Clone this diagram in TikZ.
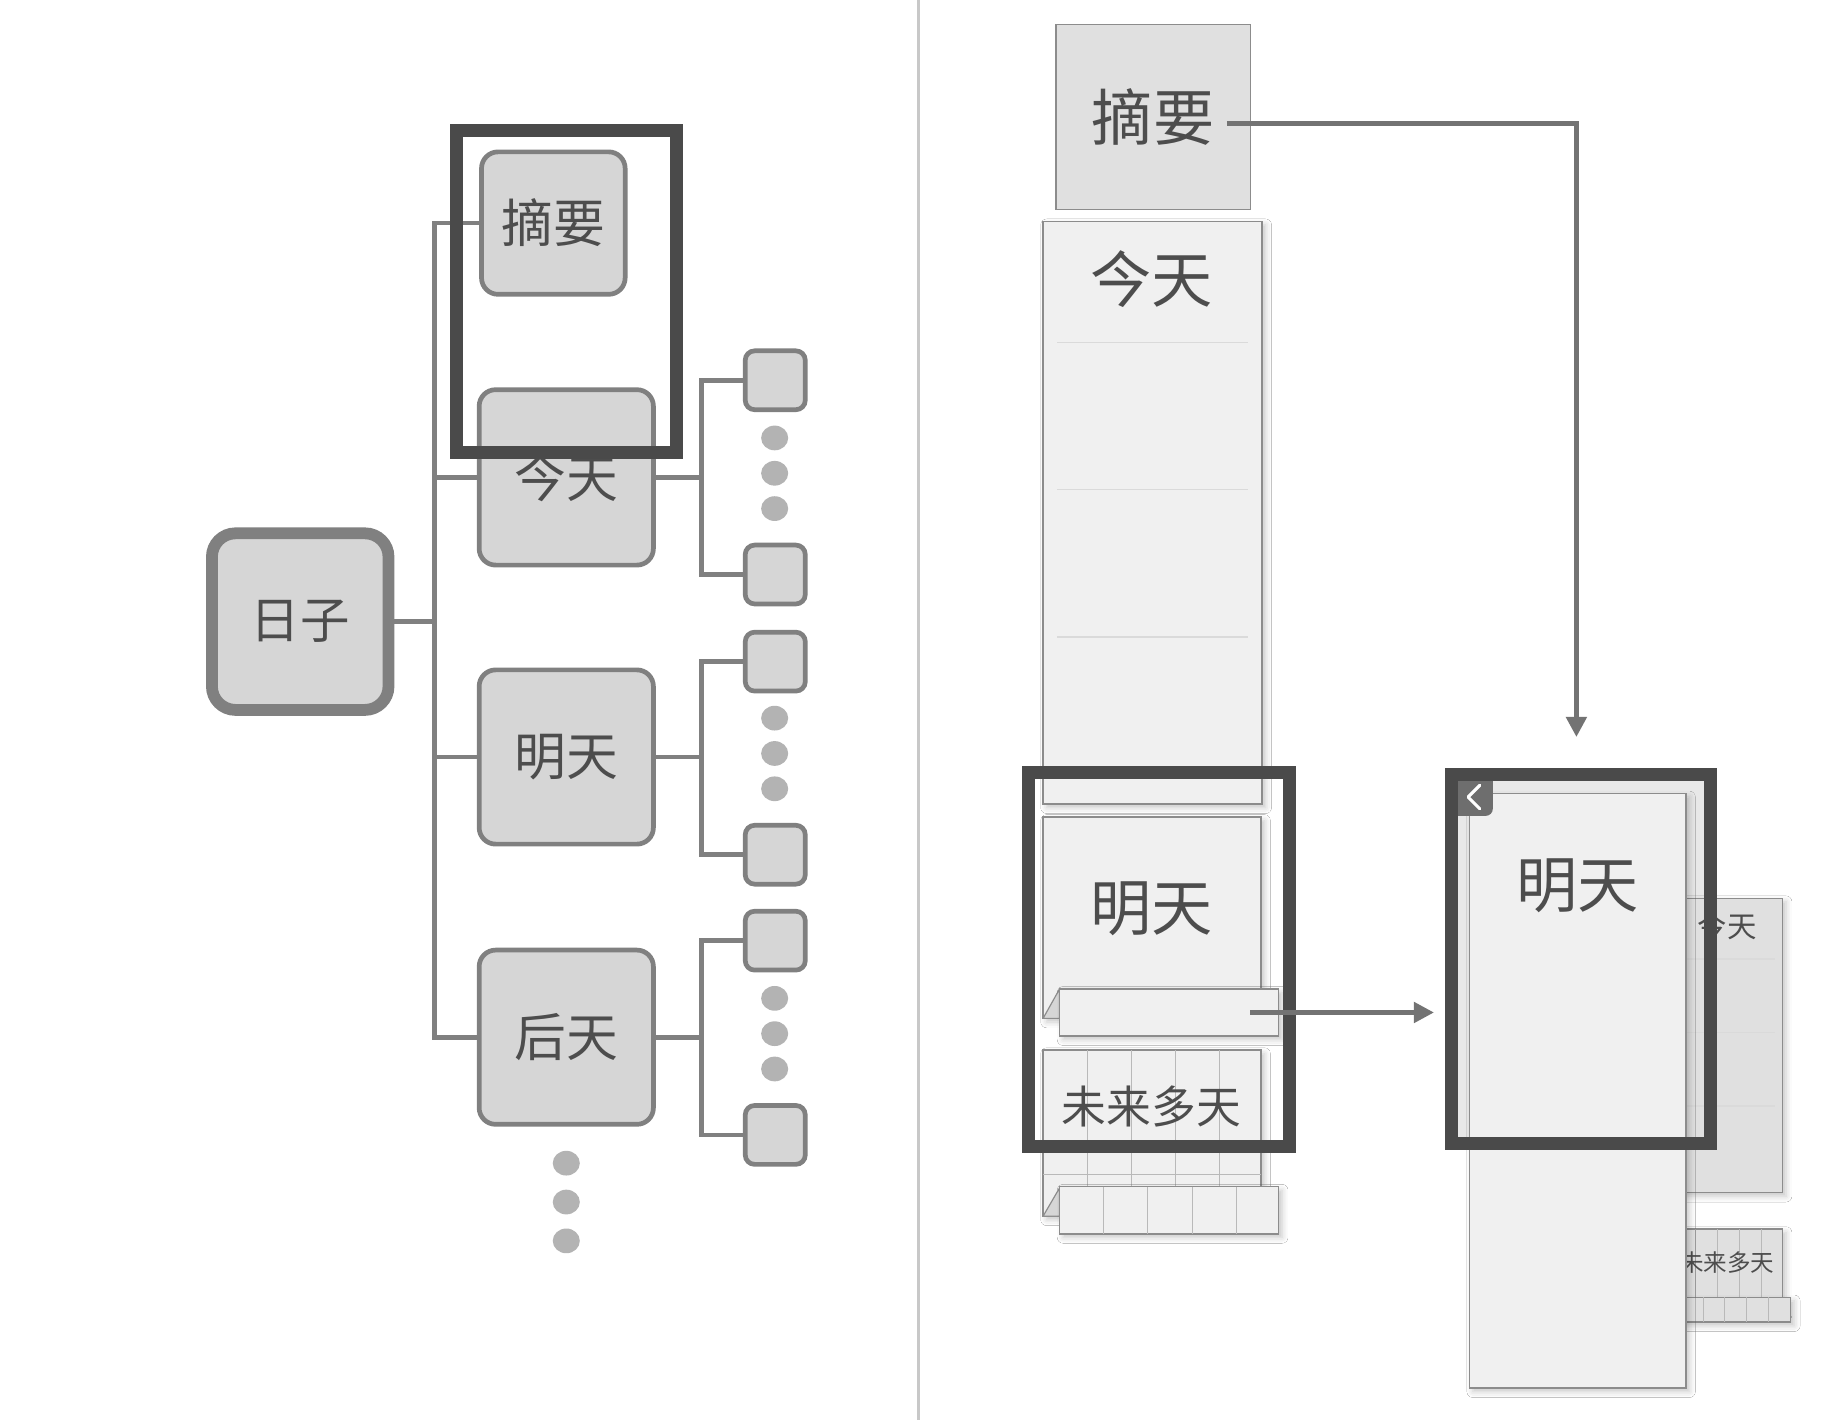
\documentclass[tikz,border=0pt]{standalone}
\usepackage{fontspec}
\newfontfamily\cjk{Noto Sans CJK SC}
\usetikzlibrary{arrows.meta,calc,shadows.blur,shapes.geometric}
\definecolor{boxfill}{HTML}{D6D6D6}
\definecolor{boxline}{HTML}{808080}
\definecolor{txt}{HTML}{4D4D4D}
\definecolor{frm}{HTML}{4A4A4A}
\definecolor{dotc}{HTML}{B3B3B3}
\definecolor{pan}{HTML}{F0F0F0}
\definecolor{pandim}{HTML}{E0E0E0}
\definecolor{panline}{HTML}{8C8C8C}
\definecolor{sepc}{HTML}{DADADA}
\definecolor{arrc}{HTML}{737373}
\definecolor{divc}{HTML}{C8C8C8}
\tikzset{
  topic/.style={draw=boxline, line width=4pt, fill=boxfill, rounded corners=14pt,
    inner sep=0pt, outer sep=0pt, text=txt, font=\cjk\fontsize{44pt}{44pt}\selectfont},
  rootbox/.style={topic, line width=10pt, rounded corners=20pt, font=\cjk\fontsize{42pt}{42pt}\selectfont},
  leaf/.style={draw=boxline, line width=4pt, fill=boxfill, rounded corners=8pt,
    inner sep=0pt, outer sep=0pt, minimum width=51pt, minimum height=50pt},
  dotn/.style={ellipse, fill=dotc, inner sep=0pt, minimum width=23pt, minimum height=21pt},
  conn/.style={draw=boxline, line width=4pt},
  hiframe/.style={draw=frm, line width=11pt, inner sep=0pt, outer sep=0pt},
  panel/.style={draw=panline, line width=1.2pt, fill=pan, inner sep=0pt, outer sep=0pt,
    anchor=north west, blur shadow={shadow xshift=3pt, shadow yshift=-3pt, shadow blur radius=5pt, shadow opacity=22}},
  dimpanel/.style={panel, fill=pandim},
  sumbox/.style={draw=panline, line width=1.2pt, fill=pandim, inner sep=0pt, outer sep=0pt,
    text=txt, font=\cjk\fontsize{52pt}{52pt}\selectfont},
  bigtxt/.style={text=txt, inner sep=0pt, font=\cjk\fontsize{52pt}{52pt}\selectfont},
  midtxt/.style={text=txt, inner sep=0pt, font=\cjk\fontsize{38pt}{38pt}\selectfont},
  sepline/.style={draw=sepc, line width=1pt},
  gridline/.style={draw=sepc!85!black, line width=0.8pt},
  foldc/.style={draw=panline, line width=1pt, fill=boxfill},
  arrowc/.style={draw=arrc, line width=4pt, -{Triangle[length=17pt,width=17pt]}},
  divline/.style={draw=divc, line width=3pt},
}
\begin{document}
\begin{tikzpicture}[x=1pt,y=-1pt]
\fill[white] (0,0) rectangle (1568,1206);
\useasboundingbox (0,0) rectangle (1568,1206);

% divider
\coordinate (dvt) at (780,0);
\coordinate (dvb) at (780,1206);
\draw[divline] (dvt) -- (dvb);

% ---------------- left tree ----------------
\node[rootbox, minimum width=150pt, minimum height=150pt] (rz) at (255,528) {日子};
\node[topic, minimum width=122pt, minimum height=121pt] (zy) at (470,189.5) {摘要};
\node[topic, minimum width=148pt, minimum height=149pt] (jt) at (481,405.5) {今天};
\node[topic, minimum width=148pt, minimum height=148pt] (mt) at (481,643) {明天};
\node[topic, minimum width=148pt, minimum height=148pt] (ht) at (481,881) {后天};

\coordinate (trunk) at (369,528);
\draw[conn] (rz.east) -- (trunk);
\draw[conn] (zy.west) -| (trunk) |- (ht.west);
\draw[conn] (trunk) |- (jt.west);
\draw[conn] (trunk) |- (mt.west);

% leaves
\node[leaf] (jt1) at (658.5,323) {};
\node[leaf] (jt2) at (658.5,488) {};
\node[leaf] (mt1) at (658.5,562) {};
\node[leaf] (mt2) at (658.5,726) {};
\node[leaf] (ht1) at (658.5,799) {};
\node[leaf] (ht2) at (658.5,964) {};

\coordinate (jf) at ($(jt.east)+(41,0)$);
\coordinate (mf) at ($(mt.east)+(41,0)$);
\coordinate (hf) at ($(ht.east)+(41,0)$);
\draw[conn] (jt.east) -- (jf);
\draw[conn] (jt1.west) -| (jf) |- (jt2.west);
\draw[conn] (mt.east) -- (mf);
\draw[conn] (mt1.west) -| (mf) |- (mt2.west);
\draw[conn] (ht.east) -- (hf);
\draw[conn] (ht1.west) -| (hf) |- (ht2.west);

% dots
\node[dotn] (jd1) at (658,372) {};
\node[dotn] (jd2) at (658,402) {};
\node[dotn] (jd3) at (658,432) {};
\node[dotn] (md1) at (658,610) {};
\node[dotn] (md2) at (658,640) {};
\node[dotn] (md3) at (658,670) {};
\node[dotn] (hd1) at (658,848) {};
\node[dotn] (hd2) at (658,878) {};
\node[dotn] (hd3) at (658,908) {};
\node[dotn] (bd1) at (481,988) {};
\node[dotn] (bd2) at (481,1021) {};
\node[dotn] (bd3) at (481,1054) {};

% highlight frame (left)
\node[hiframe, minimum width=187pt, minimum height=274pt] (f1) at (481,247.5) {};

% ---------------- right: column ----------------
\node[sumbox, minimum width=165pt, minimum height=157pt] (rzy) at (979.5,99.5) {摘要};

\node[panel, minimum width=186pt, minimum height=495pt] (rjt) at (886,188) {};
\node[bigtxt] (rjtt) at (978,237) {今天};
\draw[sepline] (898,291) -- (1060,291);
\draw[sepline] (898,416) -- (1060,416);
\draw[sepline] (898,541) -- (1060,541);

\node[panel, minimum width=185pt, minimum height=171pt] (rmt) at (886,694) {};
\node[bigtxt] (rmtt) at (978,772) {明天};
\filldraw[foldc] (886,865) -- (900,840) -- (900,865) -- cycle;
\node[panel, minimum width=186pt, minimum height=40pt] (tab1) at (900,840) {};

\node[panel, minimum width=185pt, minimum height=141pt] (rwl) at (886,892) {};
\foreach \gx in {923.5,961,998.5,1036} \draw[gridline] (\gx,892) -- (\gx,1033);
\draw[gridline] (886,998) -- (1071,998);
\node[midtxt] (rwlt) at (978,940) {未来多天};
\filldraw[foldc] (886,1033) -- (900,1009) -- (900,1033) -- cycle;
\node[panel, minimum width=186pt, minimum height=40pt] (tab2) at (900,1008) {};
\foreach \gx in {937.5,975,1012.5,1050} \draw[gridline] (\gx,1008) -- (\gx,1048);

\node[hiframe, minimum width=221.5pt, minimum height=317.5pt] (f2) at (984.75,814.75) {};

% ---------------- right: detail ----------------
\fill[black!9] (1238,663) rectangle (1447,966);
\node[dimpanel, minimum width=93pt, minimum height=250pt] (sjt) at (1421,763) {};
\node[text=txt, inner sep=0pt, font=\cjk\fontsize{25pt}{25pt}\selectfont] (sjtt) at (1467,787) {今天};
\draw[sepline] (1427,814.5) -- (1508,814.5);
\draw[sepline] (1427,877) -- (1508,877);
\draw[sepline] (1427,939.5) -- (1508,939.5);

\node[dimpanel, minimum width=93pt, minimum height=70pt] (swl) at (1421,1044) {};
\foreach \gx in {1439.75,1458.5,1477.25,1496} \draw[gridline] (\gx,1044) -- (\gx,1114);
\node[text=txt, inner sep=0pt, font=\cjk\fontsize{20pt}{20pt}\selectfont] (swlt) at (1467,1072) {未来多天};
\node[dimpanel, minimum width=93pt, minimum height=21pt] (stab) at (1428,1102) {};
\foreach \gx in {1446.5,1465,1483.5,1502} \draw[gridline] (\gx,1102) -- (\gx,1123);

\node[panel, minimum width=184pt, minimum height=505pt] (bmt) at (1248,674) {};
\node[bigtxt] (bmtt) at (1340,752) {明天};

% back button
\fill[black!57, rounded corners=6pt] (1238,663) -- (1268,663) -- (1268,693) -- (1238,693) -- cycle;
\fill[black!57] (1238,663) rectangle (1252,693);
\fill[black!57] (1238,663) rectangle (1268,676);
\draw[white, line width=2.6pt, line cap=round, line join=round] (1257,667) -- (1247,677) -- (1257,687);

\node[hiframe, minimum width=220pt, minimum height=314pt] (f3) at (1342.5,814.5) {};

% arrows
\coordinate (a1s) at (1042,105);
\coordinate (a1e) at (1339,626);
\draw[arrowc] (a1s) -| (a1e);
\coordinate (a2s) at (1062,860);
\coordinate (a2e) at (1218,860);
\draw[arrowc] (a2s) -- (a2e);
\end{tikzpicture}
\end{document}
